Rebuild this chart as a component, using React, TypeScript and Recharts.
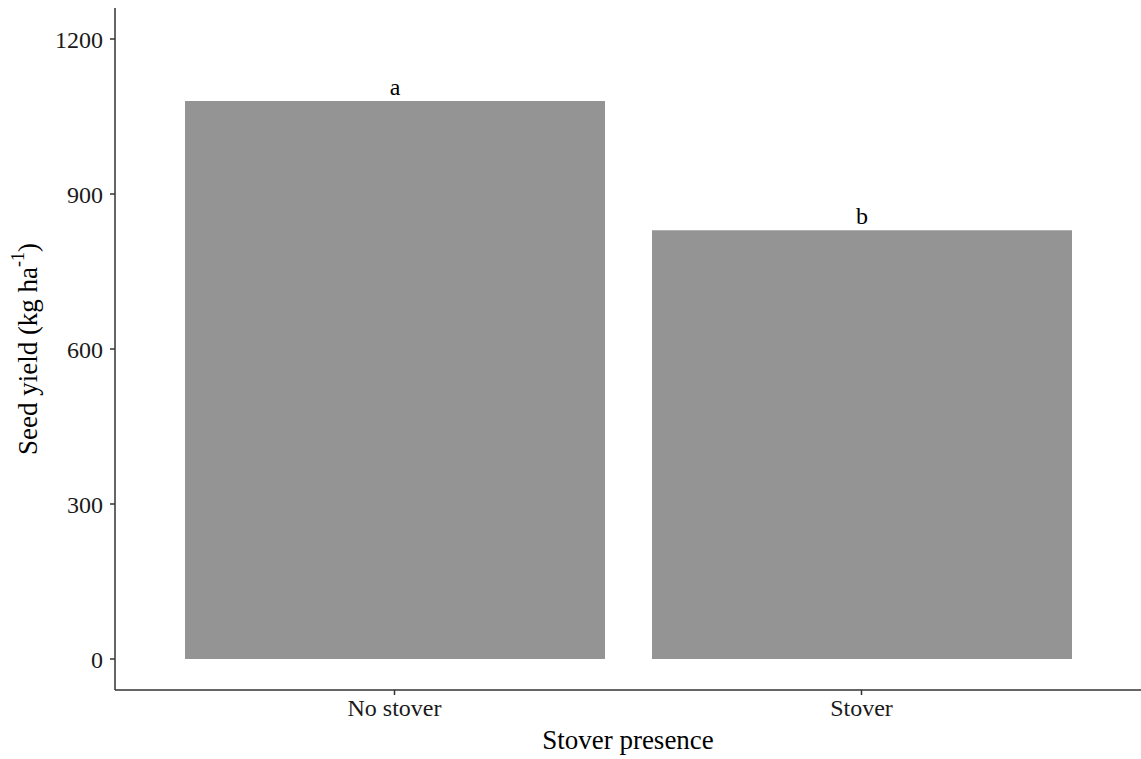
import { BarChart, Bar, XAxis, YAxis, LabelList } from "recharts";

const categories = ["No stover", "Stover"];
const seedYield = [1080, 830];
const letters = ["a", "b"];
const yTicks = [0, 300, 600, 900, 1200];

const data = categories.map((c, i) => ({ name: c, yield: seedYield[i], letter: letters[i] }));

const font = "'Liberation Serif', 'DejaVu Serif', serif";

function YTitle(props: any) {
  const vb = props.viewBox || {};
  const cx = 28;
  const cy = vb.y + vb.height / 2;
  return (
    <text
      x={cx}
      y={cy}
      transform={`rotate(-90, ${cx}, ${cy})`}
      textAnchor="middle"
      dominantBaseline="central"
      fontFamily={font}
      fontSize={27}
      fill="#000"
    >
      Seed yield (kg ha
      <tspan dy={-10} fontSize={18}>-1</tspan>
      <tspan dy={10}>)</tspan>
    </text>
  );
}

export default function App() {
  return (
    <div style={{ position: "absolute", left: 0, top: 0 }}>
      <BarChart
        width={1141}
        height={759}
        data={data}
        margin={{ top: 8, right: 0, bottom: 34, left: 55 }}
      >
        <XAxis
          dataKey="name"
          height={35}
          padding={{ left: 46, right: 46 }}
          stroke="#333"
          strokeWidth={1.5}
          tickSize={5}
          tickMargin={4}
          tick={{ fill: "#1a1a1a", fontFamily: font, fontSize: 24 }}
          label={{
            value: "Stover presence",
            position: "insideBottom",
            offset: -24,
            fill: "#000",
            fontFamily: font,
            fontSize: 27,
          }}
        />
        <YAxis
          width={60}
          domain={[-60, 1260]}
          ticks={yTicks}
          allowDataOverflow
          stroke="#333"
          strokeWidth={1.5}
          tickSize={5}
          tickMargin={7}
          tick={{ fill: "#1a1a1a", fontFamily: font, fontSize: 24 }}
          label={<YTitle />}
        />
        <Bar dataKey="yield" fill="#949494" barSize={420} isAnimationActive={false}>
          <LabelList
            dataKey="letter"
            position="top"
            offset={6}
            fill="#000"
            fontFamily={font}
            fontSize={24}
          />
        </Bar>
      </BarChart>
    </div>
  );
}
